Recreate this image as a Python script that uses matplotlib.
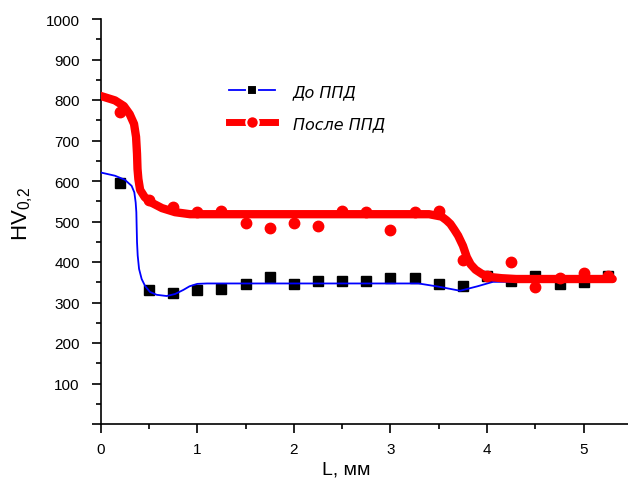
import matplotlib
matplotlib.use("Agg")
import matplotlib.pyplot as plt
from matplotlib.lines import Line2D
from matplotlib.ticker import MultipleLocator

# ---- data ----
pts_x = [0.2, 0.5, 0.75, 1.0, 1.25, 1.5, 1.75, 2.0, 2.25, 2.5, 2.75,
         3.0, 3.25, 3.5, 3.75, 4.0, 4.25, 4.5, 4.75, 5.0, 5.25]
before_pts = [595, 331, 324, 331, 334, 346, 364, 346, 353, 353, 353,
              360, 360, 346, 340, 365, 353, 366, 346, 350, 366]
after_pts = [771, 552, 537, 523, 527, 496, 484, 496, 490, 526, 523,
             479, 523, 526, 406, 365, 401, 339, 360, 373, 365]

before_curve_x = [0, 0.148, 0.25, 0.32, 0.348, 0.362, 0.369, 0.372, 0.376, 0.383,
                  0.397, 0.424, 0.459, 0.51, 0.58, 0.683, 0.77, 0.855, 0.92, 1.0,
                  1.1, 3.29, 3.50, 3.72, 3.90, 4.06, 5.30]
before_curve_y = [621, 613, 603, 588, 572, 547, 523, 490, 449, 416,
                  383, 358, 341, 326, 319, 316, 321, 331, 340, 346,
                  347, 347, 339, 329, 340, 351, 351]

after_curve_x = [0, 0.148, 0.24, 0.30, 0.345, 0.366, 0.376, 0.381, 0.39, 0.408,
                 0.456, 0.53, 0.635, 0.77, 0.925, 3.40, 3.53, 3.58, 3.62, 3.66,
                 3.70, 3.75, 3.79, 3.83, 3.88, 3.95, 4.03, 4.15, 4.30, 5.30]
after_curve_y = [810, 799, 785, 765, 741, 709, 667, 630, 605, 578,
                 560, 546, 533, 523, 518, 518, 512, 503, 494, 480,
                 465, 440, 412, 394, 381, 370, 363, 360, 358, 358]

x_ticks = [0, 1, 2, 3, 4, 5]
y_ticks = [0, 100, 200, 300, 400, 500, 600, 700, 800, 900, 1000]
y_tick_labels = ["", "100", "200", "300", "400", "500", "600", "700", "800", "900", "1000"]
label_before = "До ППД"
label_after = "После ППД"

plt.rcParams['font.family'] = ['Liberation Sans', 'DejaVu Sans']
plt.rcParams['mathtext.default'] = 'regular'

fig = plt.figure(figsize=(6.28, 4.89), dpi=100)
ax = fig.add_axes([100.7 / 628, 1 - 425 / 489, (628 - 100.7) / 628, 405 / 489])

blue = '#0000ff'
red = '#ff0000'

ax.plot(before_curve_x, before_curve_y, color=blue, lw=1.3, zorder=3)
ax.plot(pts_x, before_pts, ls='none', marker='s', ms=6.5, color='black', zorder=2)
ax.plot(pts_x, after_pts, ls='none', marker='o', ms=7.5, color=red, zorder=4)
ax.plot(after_curve_x, after_curve_y, color=red, lw=6, solid_capstyle='round',
        solid_joinstyle='round', zorder=5)

ax.set_xlim(0, (628 - 100.7) / 96.6)
ax.set_ylim(0, 1000)
ax.set_xticks(x_ticks)
ax.set_yticks(y_ticks)
ax.set_yticklabels(y_tick_labels)
ax.xaxis.set_minor_locator(MultipleLocator(0.5))
ax.yaxis.set_minor_locator(MultipleLocator(50))

for s in ['top', 'right']:
    ax.spines[s].set_visible(False)
for s in ['left', 'bottom']:
    ax.spines[s].set_linewidth(1.2)
ax.tick_params(which='major', direction='out', length=6.5, width=1.2, labelsize=11)
ax.tick_params(axis='y', which='major', pad=8.5)
ax.tick_params(axis='x', which='major', pad=6.5)
ax.tick_params(which='minor', direction='out', length=3.5, width=1.2)

ax.set_xlabel("L, мм", fontsize=14)
ax.xaxis.set_label_coords((346 - 100.7) / 527.3, -(462 - 425) / 405)
ax.set_ylabel("HV$_{0{,}2}$", fontsize=16)
ax.yaxis.set_label_coords(-(100.7 - 35) / 527.3, 0.52)

h1 = Line2D([], [], color=blue, lw=1.3, marker='s', ms=7, mfc='black', mec='white', mew=1.5)
h2 = Line2D([], [], color=red, lw=5, marker='o', ms=9, mfc=red, mec='white', mew=1.5)
leg = ax.legend([h1, h2], [label_before, label_after], loc='upper left',
                bbox_to_anchor=(221 / 628, 1 - 77 / 489), bbox_transform=fig.transFigure,
                frameon=False, handlelength=2.9, handletextpad=1.1, labelspacing=1.05,
                borderpad=0,
                prop={'family': ['Liberation Sans Narrow', 'DejaVu Sans'], 'style': 'italic',
                      'size': 11.5})

fig.savefig("out.png", dpi=100)
